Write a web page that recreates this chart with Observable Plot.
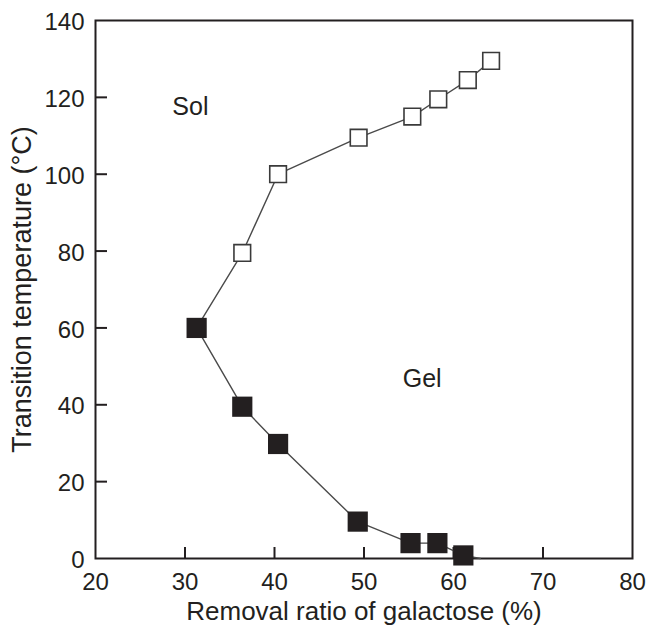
<!DOCTYPE html>
<html>
<head>
<meta charset="utf-8">
<script src="https://cdn.jsdelivr.net/npm/d3@7"></script>
<script src="https://cdn.jsdelivr.net/npm/@observablehq/plot@0.6"></script>
<style>
  html, body { margin: 0; padding: 0; background: #fff; }
  #chart svg { display: block; }
</style>
</head>
<body>
<div id="chart"></div>
<script>
// Filled squares: lower curve
const gelX = [31.3, 36.4, 40.4, 49.3, 55.2, 58.2, 61.1];
const gelY = [60, 39.5, 29.8, 9.6, 4, 4, 0.8];
// Open squares: upper curve
const solX = [36.4, 40.4, 49.4, 55.4, 58.3, 61.6, 64.2];
const solY = [79.5, 100, 109.5, 115, 119.5, 124.5, 129.5];
// line continuation beyond last filled point
const tailX = [63];
const tailY = [0];

const xTicks = [20, 30, 40, 50, 60, 70, 80];
const yTicks = [0, 20, 40, 60, 80, 100, 120, 140];
const xInnerTicks = [30, 40, 50, 60, 70];
const yInnerTicks = [20, 40, 60, 80, 100, 120];

const xLabel = ["Removal ratio of galactose (%)"];
const yLabel = ["Transition temperature (°C)"];
const regionText = ["Sol", "Gel"];
const regionX = [30.6, 56.5];
const regionY = [117.4, 46.6];

const ink = "#231f20";
const gel = gelX.map((x, i) => ({x, y: gelY[i]}));
const sol = solX.map((x, i) => ({x, y: solY[i]}));
const upperLine = [gel[0], ...sol];
const lowerLine = [...gel, ...tailX.map((x, i) => ({x, y: tailY[i]}))];
const regions = regionText.map((t, i) => ({t, x: regionX[i], y: regionY[i]}));

const W = 647, H = 625, mL = 95, mR = 15, mT = 20, mB = 67;
const innerW = W - mL - mR, innerH = H - mT - mB;

const chart = Plot.plot({
  width: W,
  height: H,
  marginLeft: mL,
  marginRight: mR,
  marginTop: mT,
  marginBottom: mB,
  style: {fontFamily: "'Liberation Sans', Arial, Helvetica, sans-serif", color: ink, background: "#fff"},
  x: {domain: [20, 80]},
  y: {domain: [0, 140]},
  marks: [
    Plot.axisX(xTicks, {tickSize: 0, tickPadding: 14, fontSize: 24, fill: ink, label: null}),
    Plot.axisY(yTicks, {tickSize: 0, tickPadding: 11, fontSize: 24, fill: ink, dy: 2, label: null}),
    Plot.text(xLabel, {frameAnchor: "bottom", dy: 53, lineAnchor: "middle", fontSize: 26,
      fill: ink, text: d => d, textAnchor: "middle"}),
    Plot.text(yLabel, {frameAnchor: "left", rotate: -90, dx: -73, fontSize: 27, letterSpacing: 0.8,
      fill: ink, text: d => d, textAnchor: "middle"}),
    Plot.tickX(xInnerTicks, {x: d => d, insetTop: innerH - 11, stroke: ink, strokeWidth: 2}),
    Plot.tickY(yInnerTicks, {y: d => d, insetRight: innerW - 12, stroke: ink, strokeWidth: 2}),
    Plot.frame({stroke: ink, strokeWidth: 2}),
    Plot.line(upperLine, {x: "x", y: "y", stroke: "#4a4a4a", strokeWidth: 1.4}),
    Plot.line(lowerLine, {x: "x", y: "y", stroke: "#4a4a4a", strokeWidth: 1.4}),
    Plot.dot(sol, {x: "x", y: "y", symbol: "square", r: 9.4, fill: "white", stroke: "#3a3a3a", strokeWidth: 1.6}),
    Plot.dot(gel, {x: "x", y: "y", symbol: "square", r: 11.4, fill: ink, stroke: "none"}),
    Plot.text(regions, {x: "x", y: "y", text: "t", fontSize: 25, fill: ink})
  ]
});
document.getElementById("chart").appendChild(chart);
</script>
</body>
</html>
